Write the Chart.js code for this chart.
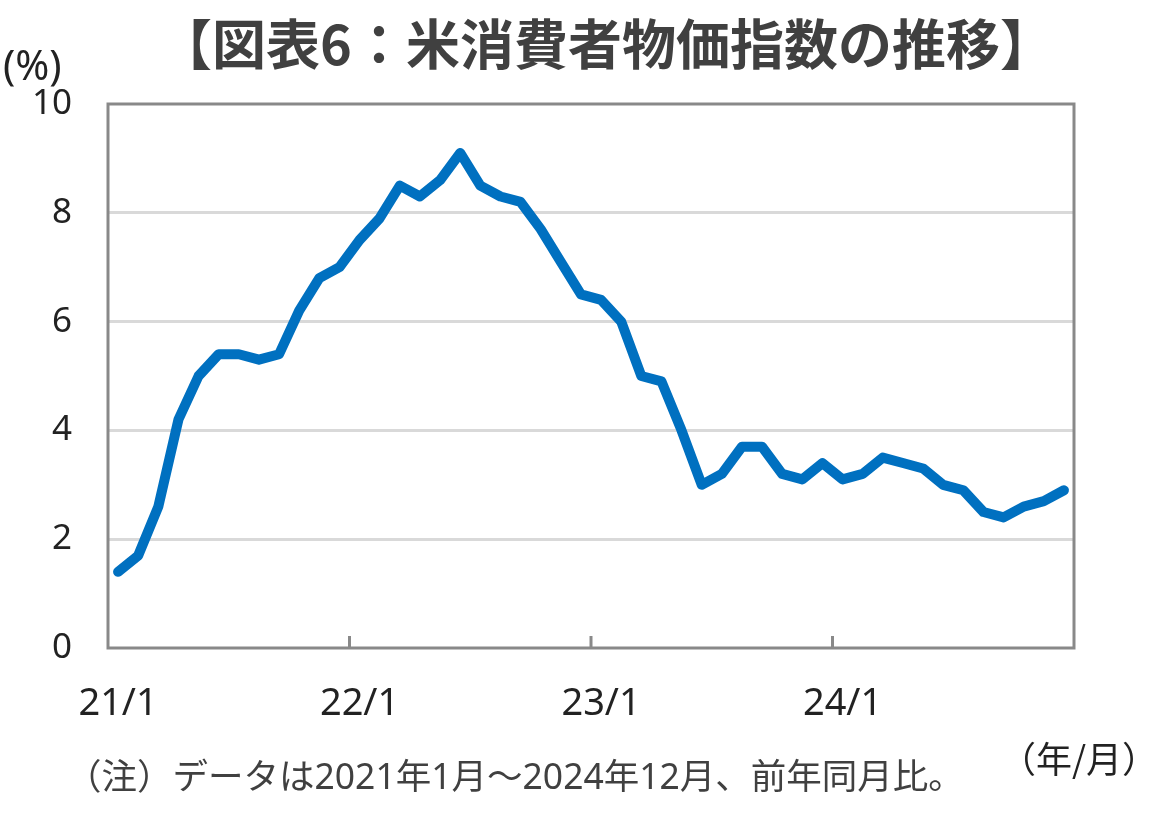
<!DOCTYPE html>
<html lang="ja">
<head>
<meta charset="utf-8">
<title>米消費者物価指数の推移</title>
<script src="https://cdn.jsdelivr.net/npm/chart.js@4.4.1/dist/chart.umd.min.js"></script>
<style>
  html, body { margin: 0; padding: 0; background: #fff; }
  #wrap { position: relative; width: 1151px; height: 815px; font-family: "Noto Sans", "Noto Sans CJK JP", sans-serif; }
  #cpi-chart { position: absolute; left: 0; top: 0; }
  .txt { position: absolute; white-space: nowrap; color: #222; line-height: 1.4; }
  #title { left: 0; width: 1212px; top: 4px; text-align: center; font-size: 54px; font-weight: bold; color: #404040; font-family: "Noto Sans CJK JP", sans-serif; }
  #unit-y { left: 3px; top: 36px; font-size: 41px; }
  #unit-x { left: 1000px; top: 732px; font-size: 36px; font-family: "Noto Sans CJK JP", sans-serif; }
  #note { left: 66px; top: 751px; font-size: 35.5px; color: #404040; }
</style>
</head>
<body>
<div id="wrap">
  <canvas id="cpi-chart" width="1151" height="815"></canvas>
  <div class="txt" id="title">【図表6：米消費者物価指数の推移】</div>
  <div class="txt" id="unit-y">(%)</div>
  <div class="txt" id="unit-x">（年/月）</div>
  <div class="txt" id="note">（注）データは2021年1月～2024年12月、前年同月比。</div>
</div>
<script>
// 2021/1 - 2024/12, 前年同月比 (%)
const years = ["21", "22", "23", "24"];
const months = [1, 2, 3, 4, 5, 6, 7, 8, 9, 10, 11, 12];
const cpi2021 = [1.4, 1.7, 2.6, 4.2, 5.0, 5.4, 5.4, 5.3, 5.4, 6.2, 6.8, 7.0];
const cpi2022 = [7.5, 7.9, 8.5, 8.3, 8.6, 9.1, 8.5, 8.3, 8.2, 7.7, 7.1, 6.5];
const cpi2023 = [6.4, 6.0, 5.0, 4.9, 4.0, 3.0, 3.2, 3.7, 3.7, 3.2, 3.1, 3.4];
const cpi2024 = [3.1, 3.2, 3.5, 3.4, 3.3, 3.0, 2.9, 2.5, 2.4, 2.6, 2.7, 2.9];
const yTicks = [0, 2, 4, 6, 8, 10];

const labels = [];
years.forEach((y) => months.forEach((m) => labels.push(y + "/" + m)));
const values = [].concat(cpi2021, cpi2022, cpi2023, cpi2024);

// 枠線と年の区切りの目盛り
const frame = {
  id: "frame",
  beforeDatasetsDraw(chart) {
    const { ctx, chartArea: a, scales } = chart;
    ctx.save();
    ctx.strokeStyle = "#898989";
    ctx.lineWidth = 3;
    ctx.strokeRect(a.left, a.top, a.right - a.left, a.bottom - a.top);
    for (let i = 12; i < labels.length; i += 12) {
      const x = (scales.x.getPixelForValue(i - 1) + scales.x.getPixelForValue(i)) / 2;
      ctx.beginPath();
      ctx.moveTo(x, a.bottom);
      ctx.lineTo(x, a.bottom - 12);
      ctx.stroke();
    }
    ctx.restore();
  },
};

const ctx = document.getElementById("cpi-chart").getContext("2d");
new Chart(ctx, {
  type: "line",
  data: {
    labels: labels,
    datasets: [
      {
        data: values,
        borderColor: "#0070C0",
        borderWidth: 10,
        pointRadius: 0,
        tension: 0,
        borderJoinStyle: "round",
        borderCapStyle: "round",
      },
    ],
  },
  options: {
    responsive: false,
    animation: false,
    layout: { padding: { left: 0, right: 77, top: 104, bottom: 0 } },
    plugins: { legend: { display: false }, tooltip: { enabled: false } },
    scales: {
      x: {
        offset: true,
        grid: { display: false },
        border: { display: false },
        ticks: {
          autoSkip: false,
          maxRotation: 0,
          padding: 25,
          color: "#222",
          font: { family: "Noto Sans", size: 38 },
          callback: (v, i) => (i % 12 === 0 ? labels[i] : ""),
        },
        afterFit: (s) => { s.height = 167; },
      },
      y: {
        min: 0,
        max: 10,
        afterBuildTicks: (s) => { s.ticks = yTicks.map((v) => ({ value: v })); },
        grid: {
          drawTicks: false,
          lineWidth: 3,
          color: (c) => (c.tick.value === 0 || c.tick.value === 10 ? "rgba(0,0,0,0)" : "#d9d9d9"),
        },
        border: { display: false },
        ticks: {
          padding: 36,
          color: "#222",
          font: { family: "Noto Sans", size: 35 },
        },
        afterFit: (s) => { s.width = 108; },
      },
    },
  },
  plugins: [frame],
});
</script>
</body>
</html>
